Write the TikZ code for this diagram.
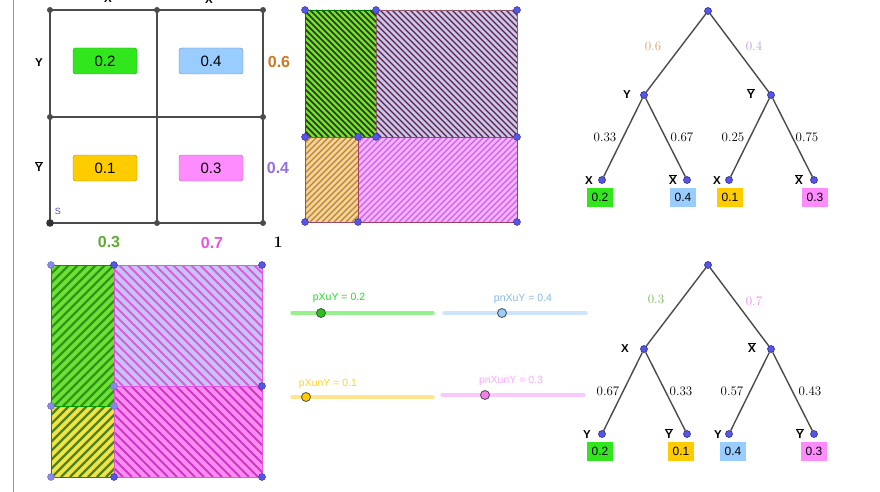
\documentclass[tikz,border=0pt]{standalone}
\usepackage{fontspec}
\usepackage{xcolor}
\usepackage{tikz}

\newfontfamily\ggsans{Liberation Sans}
\newcommand{\nbar}[1]{$\overline{\hbox{#1}}$}

\definecolor{gridgray}{RGB}{75,75,75}
\definecolor{dotblue}{RGB}{85,85,230}
\definecolor{dotedge}{RGB}{45,45,150}
\definecolor{boxgreen}{RGB}{50,230,30}
\definecolor{boxblue}{RGB}{153,204,255}
\definecolor{boxyellow}{RGB}{255,204,0}
\definecolor{boxpink}{RGB}{255,140,255}
\definecolor{orangeY}{RGB}{204,119,34}
\definecolor{purpleY}{RGB}{150,110,230}
\definecolor{greenX}{RGB}{95,170,50}
\definecolor{pinkX}{RGB}{230,85,225}
\definecolor{hgreen}{RGB}{110,225,55}
\definecolor{hlav}{RGB}{195,200,240}
\definecolor{hyellow}{RGB}{255,215,100}
\definecolor{hpink}{RGB}{255,175,255}
\definecolor{kgreen}{RGB}{60,45,30}
\definecolor{klav}{RGB}{105,30,55}
\definecolor{kyellow}{RGB}{165,120,160}
\definecolor{kpink}{RGB}{185,105,235}
\definecolor{gyellow}{RGB}{240,228,70}
\definecolor{glav}{RGB}{200,195,250}
\definecolor{gpink}{RGB}{255,140,240}
\definecolor{jgreen}{RGB}{45,150,20}
\definecolor{jyellow}{RGB}{80,130,25}
\definecolor{jlav}{RGB}{215,95,215}
\definecolor{jpink}{RGB}{205,55,200}
\definecolor{lgreen}{RGB}{150,240,140}
\definecolor{lblue}{RGB}{205,228,250}
\definecolor{lyellow}{RGB}{255,230,140}
\definecolor{lpink}{RGB}{250,200,250}

\begin{document}
\begin{tikzpicture}[x=1pt, y=-1pt,
    cellbox/.style={draw=#1!70!black, fill=#1, rounded corners=2.5pt,
        minimum width=64pt, minimum height=26pt, inner sep=0pt,
        font=\ggsans\fontsize{15}{16}\selectfont},
    leafbox/.style={fill=#1, minimum width=26pt, minimum height=19pt,
        inner sep=0pt, font=\ggsans\fontsize{12}{13}\selectfont},
    dot/.style={circle, fill=dotblue, draw=dotedge, line width=0.6pt,
        inner sep=0pt, minimum size=7pt},
    branch/.style={draw=gridgray, line width=1.4pt},
    prob/.style={font=\fontsize{13}{14}\selectfont},
    tag/.style={font=\ggsans\bfseries\fontsize{11.5}{12}\selectfont},
    margin/.style={font=\ggsans\bfseries\fontsize{16}{17}\selectfont},
    slidertxt/.style={font=\ggsans\fontsize{10.5}{12}\selectfont},
    slider/.style={line width=3.5pt, line cap=round},
    hatch/.style={draw=#1, line width=1.5pt}]
    \useasboundingbox (0,0) rectangle (880,492);

    % panel edge
    \draw[gray!80, line width=0.8pt] (13,0) -- (13,492);

    % two-way table
    \draw[gridgray, line width=1.2pt] (50,10) rectangle (263,223);
    \draw[gridgray, line width=1.2pt] (157,10) -- (157,223);
    \draw[gridgray, line width=1.2pt] (50,117) -- (263,117);
    \fill[gridgray] (50,10) circle (3pt);
    \fill[gridgray] (157,10) circle (3pt);
    \fill[gridgray] (263,10) circle (3pt);
    \fill[gridgray] (50,117) circle (3pt);
    \fill[gridgray] (263,117) circle (3pt);
    \fill[black!80] (50,223) circle (3.8pt);
    \fill[gridgray] (157,223) circle (3pt);
    \fill[gridgray] (263,223) circle (3pt);

    \node[cellbox=boxgreen] (c2) at (105,61) {0.2};
    \node[cellbox=boxblue] (c4) at (211,61) {0.4};
    \node[cellbox=boxyellow] (c1) at (105,168) {0.1};
    \node[cellbox=boxpink] (c3) at (211,168) {0.3};

    \node[tag] (tx) at (108,-1) {X};
    \node[tag] (tnx) at (209,-1) {\nbar{X}};
    \node[tag] (ty) at (39,63) {Y};
    \node[tag] (tny) at (39,167) {\nbar{Y}};
    \node[font=\ggsans\fontsize{9}{10}\selectfont, text=blue!40!gray] (ts) at (58,211) {S};

    \node[margin, text=orangeY] (m6) at (279,62) {0.6};
    \node[margin, text=purpleY] (m4) at (278,168) {0.4};
    \node[margin, text=greenX] (m3) at (109,242) {0.3};
    \node[margin, text=pinkX] (m7) at (212,243) {0.7};
    \node[font=\bfseries\fontsize{16}{17}\selectfont] (m1) at (278,242) {1};

    % area square, Y first
    \fill[hgreen] (305,10) rectangle (376,137);
    \begin{scope}
        \clip (305,10) rectangle (376,137);
        \foreach \c in {168,174,...,370}
            \draw[hatch=kgreen, line width=1.7pt] (\c+10,10) -- (\c+137,137);
    \end{scope}
    \draw[green!45!black, line width=0.8pt] (305,10) rectangle (376,137);
    \fill[hlav] (376,10) rectangle (517,137);
    \begin{scope}
        \clip (376,10) rectangle (517,137);
        \foreach \c in {238,244,...,508}
            \draw[hatch=klav, line width=1.3pt] (\c+10,10) -- (\c+137,137);
    \end{scope}
    \draw[gray!70!purple, line width=0.8pt] (376,10) rectangle (517,137);
    \fill[hyellow] (305,137) rectangle (358,222);
    \begin{scope}
        \clip (305,137) rectangle (358,222);
        \foreach \c in {442,448,...,586}
            \draw[hatch=kyellow, line width=1.3pt] (\c-137,137) -- (\c-222,222);
    \end{scope}
    \draw[gray!60!purple, line width=0.8pt] (305,137) rectangle (358,222);
    \fill[hpink] (358,137) rectangle (517,222);
    \begin{scope}
        \clip (358,137) rectangle (517,222);
        \foreach \c in {495,501,...,741}
            \draw[hatch=kpink, line width=1.3pt] (\c-137,137) -- (\c-222,222);
    \end{scope}
    \draw[purple!50!gray, line width=0.8pt] (358,137) rectangle (517,222);

    \filldraw[dotedge, fill=dotblue] (305,10) circle (3.5pt);
    \filldraw[dotedge, fill=dotblue] (376,10) circle (3.5pt);
    \filldraw[dotedge, fill=dotblue] (517,10) circle (3.5pt);
    \filldraw[dotedge, fill=dotblue] (305,137) circle (3.5pt);
    \filldraw[dotedge, fill=dotblue] (358,137) circle (3.5pt);
    \filldraw[dotedge, fill=dotblue] (376,137) circle (3.5pt);
    \filldraw[dotedge, fill=dotblue] (517,137) circle (3.5pt);
    \filldraw[dotedge, fill=dotblue] (305,222) circle (3.5pt);
    \filldraw[dotedge, fill=dotblue] (358,222) circle (3.5pt);
    \filldraw[dotedge, fill=dotblue] (517,222) circle (3.5pt);

    % area square, X first
    \fill[hgreen] (51,265) rectangle (114,406);
    \begin{scope}
        \clip (51,265) rectangle (114,406);
        \foreach \c in {316,325,...,523}
            \draw[hatch=jgreen, line width=2.2pt] (\c-265,265) -- (\c-406,406);
    \end{scope}
    \draw[green!60!black, line width=0.8pt] (51,265) rectangle (114,406);
    \fill[gyellow] (51,406) rectangle (114,477);
    \begin{scope}
        \clip (51,406) rectangle (114,477);
        \foreach \c in {457,466,...,592}
            \draw[hatch=jyellow, line width=2.2pt] (\c-406,406) -- (\c-477,477);
    \end{scope}
    \draw[green!60!black, line width=0.8pt] (51,406) rectangle (114,477);
    \fill[glav] (114,265) rectangle (262,386);
    \begin{scope}
        \clip (114,265) rectangle (262,386);
        \foreach \c in {-272,-263,...,-2}
            \draw[hatch=jlav, line width=1.9pt] (\c+265,265) -- (\c+386,386);
    \end{scope}
    \draw[pinkX, line width=0.8pt] (114,265) rectangle (262,386);
    \fill[gpink] (114,386) rectangle (262,477);
    \begin{scope}
        \clip (114,386) rectangle (262,477);
        \foreach \c in {-363,-354,...,-120}
            \draw[hatch=jpink, line width=1.9pt] (\c+386,386) -- (\c+477,477);
    \end{scope}
    \draw[pinkX, line width=0.8pt] (114,386) rectangle (262,477);

    \filldraw[dotedge!70, fill=dotblue!70] (51,265) circle (3.5pt);
    \filldraw[dotedge, fill=dotblue] (114,265) circle (3.5pt);
    \filldraw[dotedge, fill=dotblue] (262,265) circle (3.5pt);
    \filldraw[dotedge!70, fill=dotblue!70] (114,386) circle (3.5pt);
    \filldraw[dotedge, fill=dotblue] (262,386) circle (3.5pt);
    \filldraw[dotedge!70, fill=dotblue!70] (51,406) circle (3.5pt);
    \filldraw[dotedge!70, fill=dotblue!70] (114,406) circle (3.5pt);
    \filldraw[dotedge!70, fill=dotblue!70] (51,477) circle (3.5pt);
    \filldraw[dotedge, fill=dotblue] (114,477) circle (3.5pt);
    \filldraw[dotedge, fill=dotblue] (262,477) circle (3.5pt);

    % sliders
    \draw[slider, lgreen] (292,313) -- (433,313);
    \filldraw[black!70, fill=boxgreen!85!black, line width=0.8pt] (321,313) circle (4.5pt);
    \node[slidertxt, text=green!75!gray] (sxy) at (339,298) {pXuY = 0.2};
    \draw[slider, lblue] (444,313) -- (586,313);
    \filldraw[black!70, fill=boxblue, line width=0.8pt] (502,313) circle (4.5pt);
    \node[slidertxt, text=boxblue!90!black] (snxy) at (523,299) {pnXuY = 0.4};
    \draw[slider, lyellow] (292,397) -- (433,397);
    \filldraw[black!70, fill=boxyellow, line width=0.8pt] (306,397) circle (4.5pt);
    \node[slidertxt, text=boxyellow!85!white] (sxny) at (328,384) {pXunY = 0.1};
    \draw[slider, lpink] (442,395) -- (584,395);
    \filldraw[black!70, fill=boxpink!90!purple, line width=0.8pt] (485,395) circle (4.5pt);
    \node[slidertxt, text=boxpink!75!white] (snxny) at (511,381) {pnXunY = 0.3};

    % tree, Y first
    \node[dot] (r1) at (708,11) {};
    \node[dot] (ya) at (644,95) {};
    \node[dot] (yb) at (771,95) {};
    \node[dot] (la) at (602,180) {};
    \node[dot] (lb) at (687,180) {};
    \node[dot] (lc) at (729,180) {};
    \node[dot] (ld) at (814,180) {};
    \draw[branch] (r1) -- (ya);
    \draw[branch] (r1) -- (yb);
    \draw[branch] (ya) -- (la);
    \draw[branch] (ya) -- (lb);
    \draw[branch] (yb) -- (lc);
    \draw[branch] (yb) -- (ld);
    \node[prob, text=orangeY!70!white] (q6) at (653,46) {0.6};
    \node[prob, text=purpleY!70!white] (q4) at (754,46) {0.4};
    \node[prob] (q33) at (605,137) {0.33};
    \node[prob] (q67) at (682,137) {0.67};
    \node[prob] (q25) at (733,137) {0.25};
    \node[prob] (q75) at (807,137) {0.75};
    \node[tag] at (627,95) {Y};
    \node[tag] at (751,94) {\nbar{Y}};
    \node[tag] at (589,181) {X};
    \node[tag] at (673,180) {\nbar{X}};
    \node[tag] at (717,181) {X};
    \node[tag] at (799,180) {\nbar{X}};
    \node[leafbox=boxgreen] (e2) at (600,197) {0.2};
    \node[leafbox=boxblue] (e4) at (683,197) {0.4};
    \node[leafbox=boxyellow] (e1) at (730,197) {0.1};
    \node[leafbox=boxpink] (e3) at (815,197) {0.3};

    % tree, X first
    \node[dot] (r2) at (708,265) {};
    \node[dot] (xa) at (644,349) {};
    \node[dot] (xb) at (771,349) {};
    \node[dot] (ma) at (602,434) {};
    \node[dot] (mb) at (687,434) {};
    \node[dot] (mc) at (729,434) {};
    \node[dot] (md) at (814,434) {};
    \draw[branch] (r2) -- (xa);
    \draw[branch] (r2) -- (xb);
    \draw[branch] (xa) -- (ma);
    \draw[branch] (xa) -- (mb);
    \draw[branch] (xb) -- (mc);
    \draw[branch] (xb) -- (md);
    \node[prob, text=greenX!85!white] (p3) at (656,299) {0.3};
    \node[prob, text=pinkX!70!white] (p7) at (754,301) {0.7};
    \node[prob] (p67) at (608,391) {0.67};
    \node[prob] (p33) at (681,391) {0.33};
    \node[prob] (p57) at (732,391) {0.57};
    \node[prob] (p43) at (810,391) {0.43};
    \node[tag] at (625,349) {X};
    \node[tag] at (752,348) {\nbar{X}};
    \node[tag] at (587,435) {Y};
    \node[tag] at (669,434) {\nbar{Y}};
    \node[tag] at (718,435) {Y};
    \node[tag] at (800,434) {\nbar{Y}};
    \node[leafbox=boxgreen] (f2) at (600,451) {0.2};
    \node[leafbox=boxyellow] (f1) at (681,451) {0.1};
    \node[leafbox=boxblue] (f4) at (733,451) {0.4};
    \node[leafbox=boxpink] (f3) at (814,451) {0.3};
\end{tikzpicture}
\end{document}
